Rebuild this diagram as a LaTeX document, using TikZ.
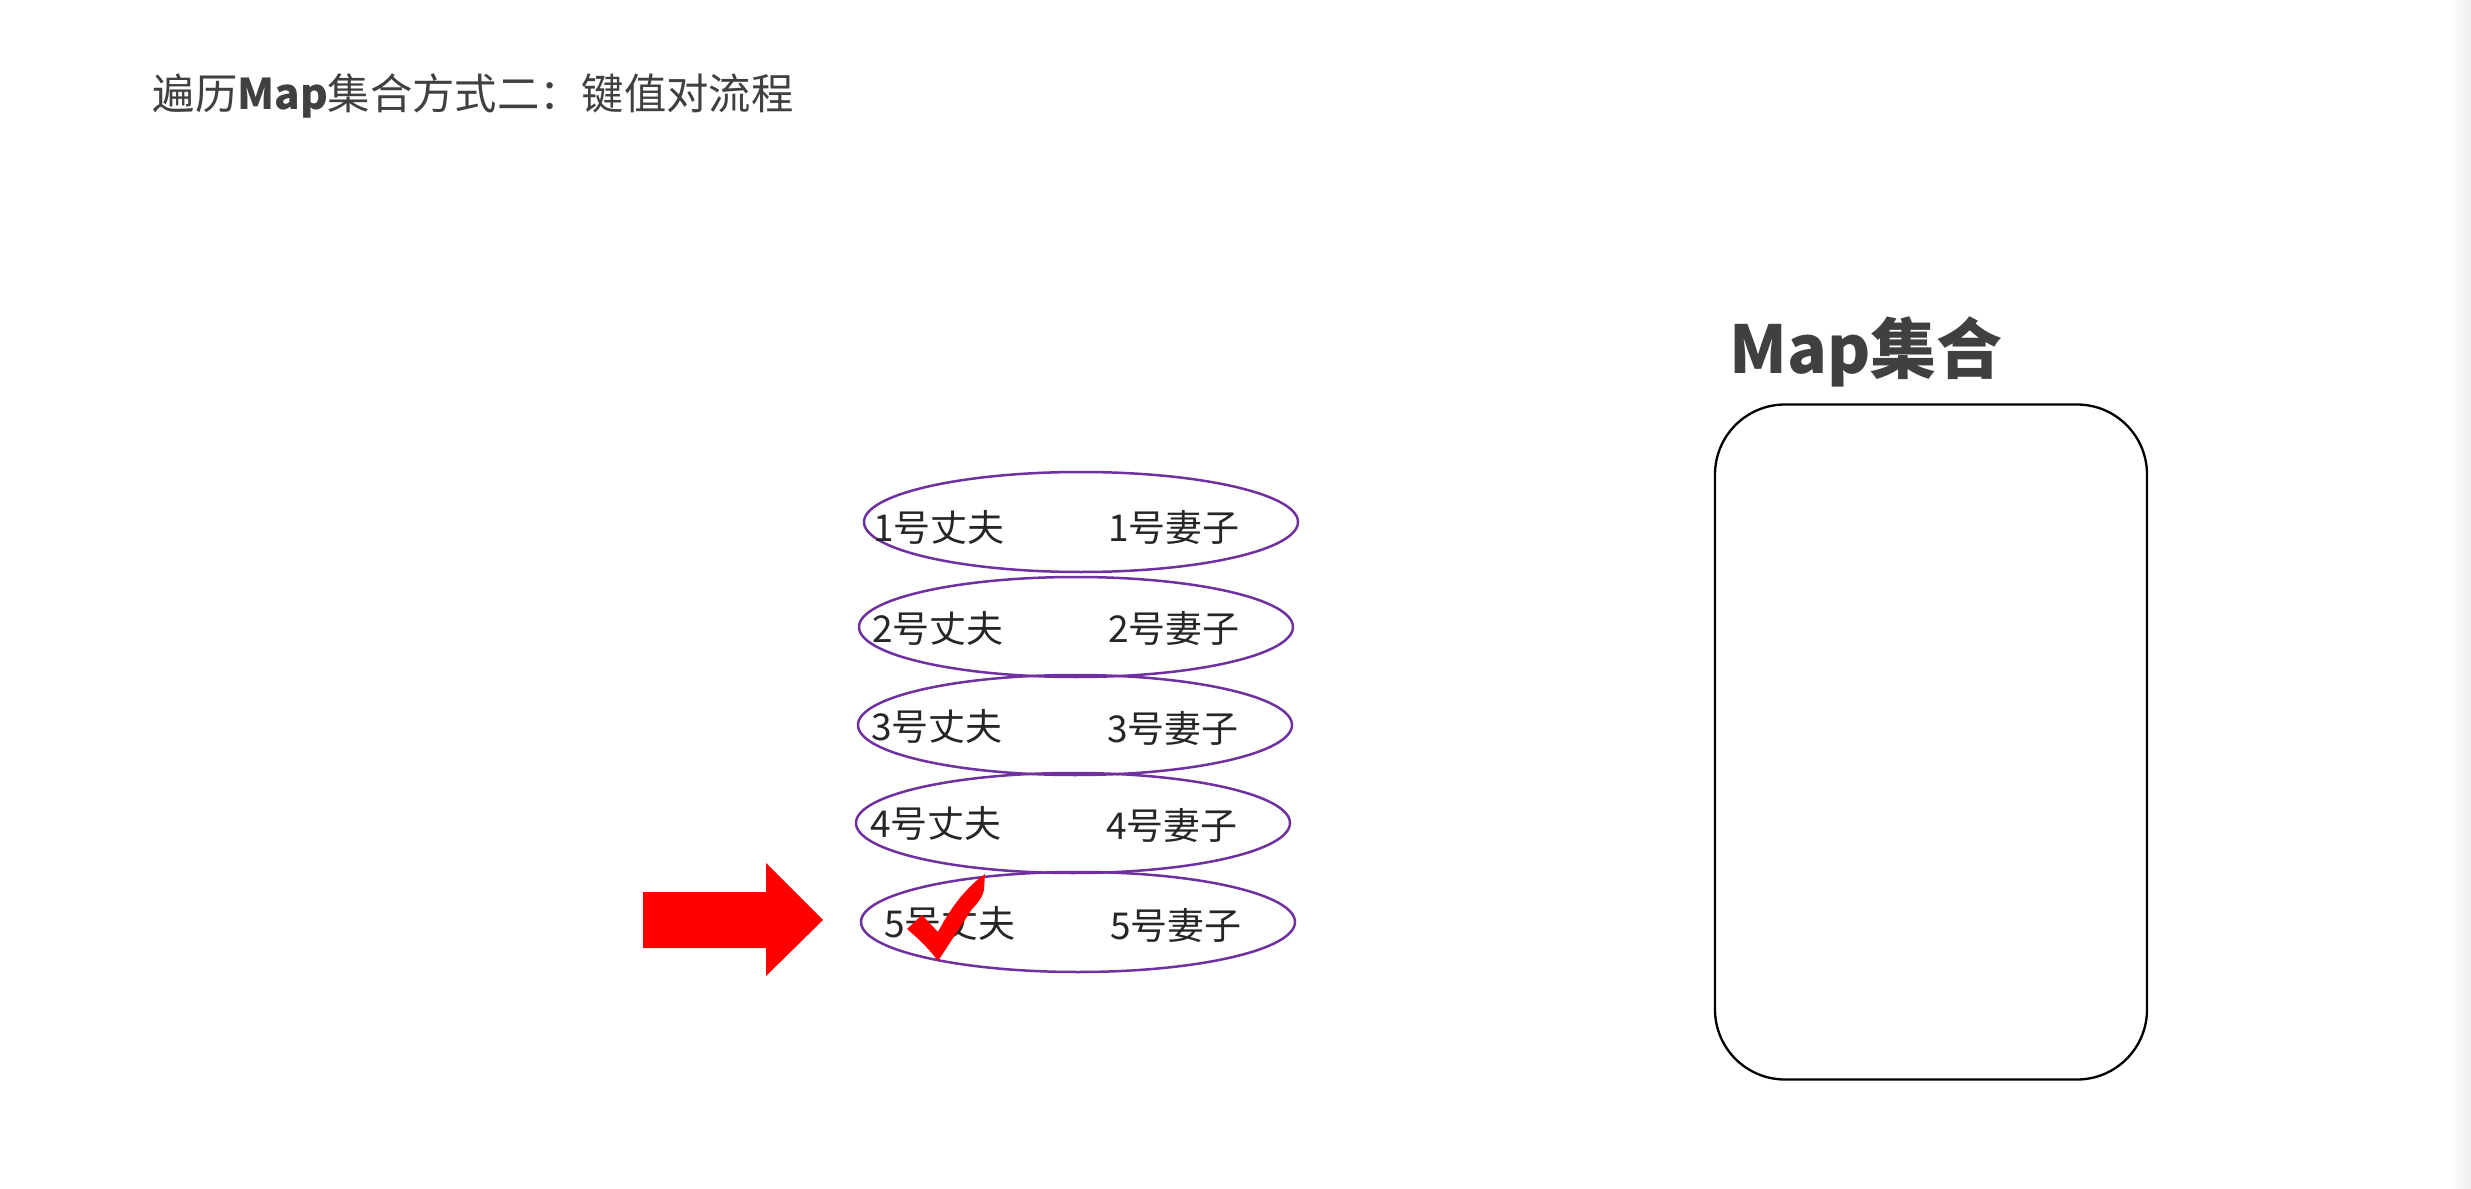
\documentclass[tikz,border=0pt]{standalone}
\usepackage{fontspec}
\setmainfont{Noto Sans CJK SC}
\usetikzlibrary{shapes.geometric}
\definecolor{pairpurple}{HTML}{7030A0}
\definecolor{titlegray}{HTML}{404040}
\definecolor{txtdark}{HTML}{262626}
\definecolor{arrowred}{HTML}{FF0000}
\tikzset{
  pair/.style={draw=pairpurple, line width=0.75pt, ellipse, minimum width=434*0.3pt, minimum height=100*0.3pt, inner sep=0pt},
  person/.style={font=\fontsize{11.1}{12}\selectfont, text=txtdark, inner sep=0pt, anchor=center},
  mapbox/.style={draw=black, line width=0.7pt, rounded corners=21pt},
}
\begin{document}
\begin{tikzpicture}[x=0.3pt,y=-0.3pt]
\useasboundingbox[fill=white] (0,0) rectangle (2471,1189);
\shade[left color=white, right color=black!7] (2452,0) rectangle (2471,1189);
% title
\node[anchor=west, text=titlegray, font=\fontsize{12.7}{14}\selectfont, inner sep=0pt] (title) at (152,96) {遍历\textbf{Map}集合方式二：键值对流程};
% pairs
\node[pair] (p1) at (1081,522) {};
\node[pair] (p2) at (1076,627) {};
\node[pair] (p3) at (1075,725) {};
\node[pair] (p4) at (1073,823) {};
\node[pair] (p5) at (1078,922) {};
\node[person] (h1) at (939,527) {1号丈夫};
\node[person] (w1) at (1174,527) {1号妻子};
\node[person] (h2) at (938,628) {2号丈夫};
\node[person] (w2) at (1174,628) {2号妻子};
\node[person] (h3) at (937,726) {3号丈夫};
\node[person] (w3) at (1173,728) {3号妻子};
\node[person] (h4) at (936,823) {4号丈夫};
\node[person] (w4) at (1172,825) {4号妻子};
\node[person] (h5) at (950,923) {5号丈夫};
\node[person] (w5) at (1176,925) {5号妻子};
% red arrow
\fill[arrowred] (643,892) -- (766,892) -- (766,863) -- (823,920) -- (766,976) -- (766,948) -- (643,948) -- cycle;
% check mark
\fill[arrowred] (907,929) -- (922,915) -- (938,932) .. controls (952,905) and (968,886) .. (985,874)
  -- (984,890) .. controls (983,896) and (978,903) .. (972,909)
  -- (938,961) .. controls (930,950) and (920,940) .. cycle;
% map box
\node[anchor=center, text=titlegray, font=\fontsize{19.8}{22}\selectfont\bfseries, inner sep=0pt] (maplabel) at (1866,352) {Map集合};
\node[mapbox, minimum width=432*0.3pt, minimum height=675*0.3pt, inner sep=0pt] (map) at (1931,742) {};
\end{tikzpicture}
\end{document}
